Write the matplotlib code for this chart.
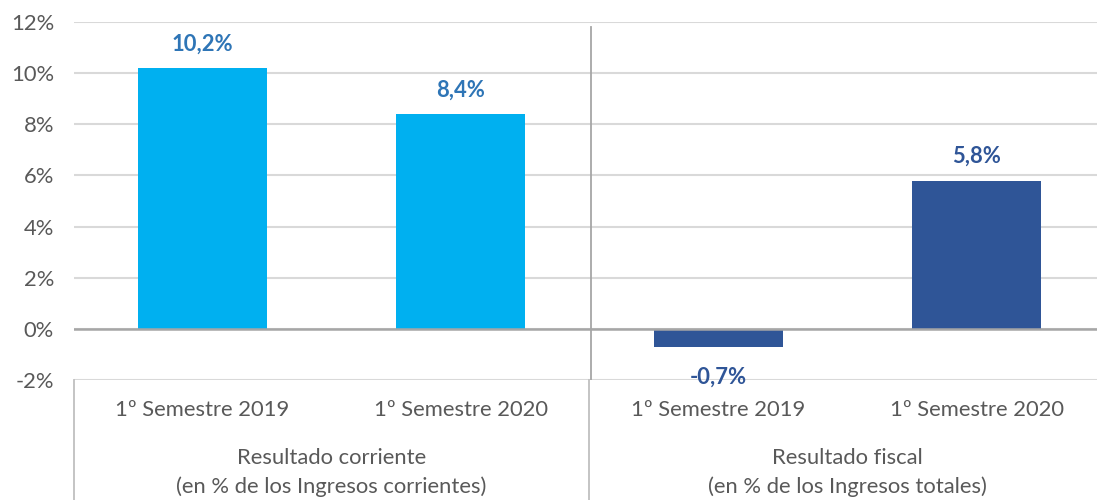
import matplotlib
matplotlib.use("Agg")
import matplotlib.pyplot as plt
from matplotlib.transforms import blended_transform_factory

categories = ["1º Semestre 2019", "1º Semestre 2020", "1º Semestre 2019", "1º Semestre 2020"]
values = [10.2, 8.4, -0.7, 5.8]
value_labels = ["10,2%", "8,4%", "-0,7%", "5,8%"]
groups = [["Resultado corriente", "(en % de los Ingresos corrientes)"],
          ["Resultado fiscal", "(en % de los Ingresos totales)"]]
yticks = [-2, 0, 2, 4, 6, 8, 10, 12]
ytick_labels = ["-2%", "0%", "2%", "4%", "6%", "8%", "10%", "12%"]

bar_colors = ["#00B0F0", "#00B0F0", "#2F5597", "#2F5597"]
label_colors = ["#2E75B6", "#2E75B6", "#2F5597", "#2F5597"]

plt.rcParams['font.family'] = ['Lato', 'DejaVu Sans']
FS = 15.8

W, H = 1097, 500
fig = plt.figure(figsize=(W / 100, H / 100), dpi=100)
left_px, right_px, top_px, bottom_px = 73.5, 1105.5, 22, 380
ax = fig.add_axes([left_px / W, 1 - bottom_px / H, (right_px - left_px) / W, (bottom_px - top_px) / H])

x = list(range(len(values)))
ax.bar(x, values, width=0.5, color=bar_colors, zorder=3)
ax.set_xlim(-0.5, 3.5)
ax.set_ylim(-2, 12)
ax.set_yticks(yticks)
ax.set_yticklabels(ytick_labels, fontsize=FS, color="#595959")
ax.tick_params(axis='y', length=0, pad=14)
ax.set_xticks([])
for s in ax.spines.values():
    s.set_visible(False)
for t in yticks:
    ax.axhline(t, color="#D9D9D9", lw=1.5, zorder=1)
ax.axhline(0, color="#A6A6A6", lw=1.8, zorder=4)

# separator inside plot
ax.plot([1.506, 1.506], [-2, 11.8], color="#A6A6A6", lw=1.3, zorder=2)

# data labels
for xi, v, lab, c in zip(x, values, value_labels, label_colors):
    off = 24 if v >= 0 else -30
    ax.annotate(lab, (xi, v), xytext=(0, off), textcoords='offset pixels',
                ha='center', va='center', fontsize=FS, fontweight='bold', color=c)

# lower category box
tr = blended_transform_factory(ax.transData, ax.transAxes)
span = bottom_px - top_px
ybot = (bottom_px - H) / span
for xv in [-0.5, 1.497, 3.5]:
    ax.plot([xv, xv], [0, ybot], color="#BFBFBF", lw=1.3, transform=tr, clip_on=False)

y_cat = (bottom_px - 410) / span
for xi, c in zip(x, categories):
    ax.text(xi, y_cat, c, transform=tr, ha='center', va='center', fontsize=FS, color="#595959")

line_px = [458, 487]
for gi, g in enumerate(groups):
    for line, py in zip(g, line_px):
        ax.text(0.5 + 2 * gi, (bottom_px - py) / span, line, transform=tr, ha='center',
                va='center', fontsize=FS, color="#595959")

fig.savefig("out.png", dpi=100)
